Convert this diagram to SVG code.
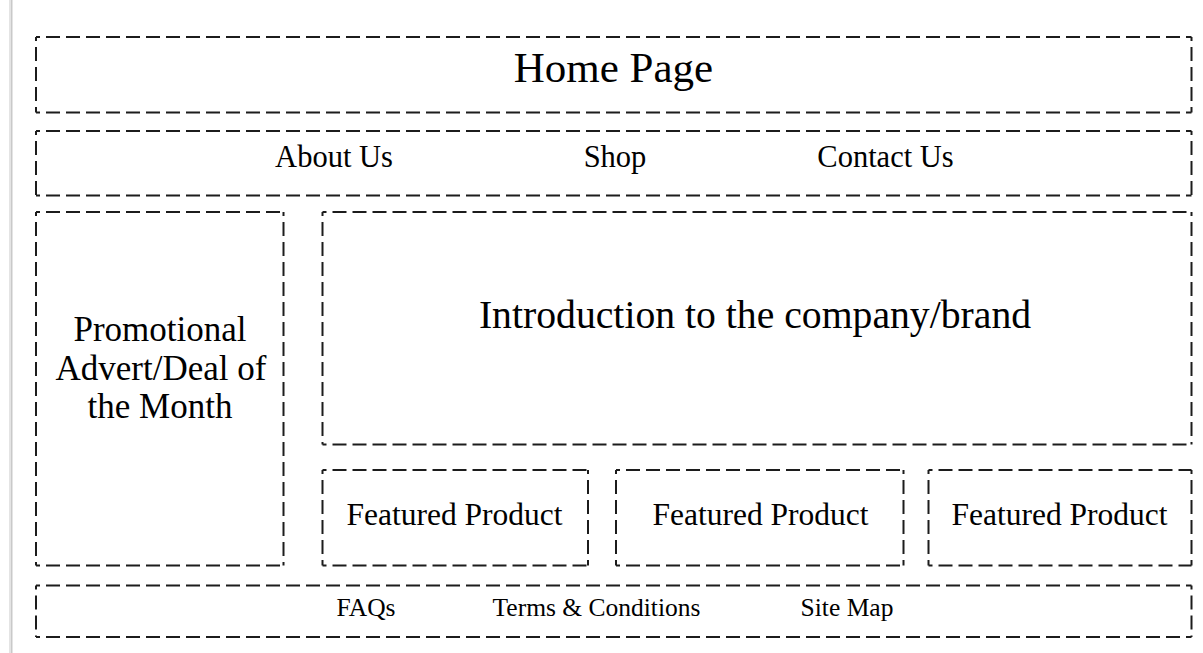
<svg xmlns="http://www.w3.org/2000/svg" width="1203" height="653" viewBox="0 0 1203 653">
<style>
.box{fill:none;stroke:#1c1c1c;stroke-width:2;stroke-dasharray:14 6;stroke-dashoffset:10}
.t{font-family:"Liberation Serif","Times New Roman",serif;fill:#000;text-anchor:middle}
</style>
<rect width="1203" height="653" fill="#fff"/>
<rect x="9" y="0" width="2" height="653" fill="#e4e4e4"/>
<rect x="11" y="0" width="1.5" height="653" fill="#c9c9c9"/>
<g id="connectors"></g>
<g id="home">
<path class="box" d="M36 37H1191.5M36 37V112.5M1191.5 37V112.5M36 112.5H1191.5"/>
<text class="t" x="613.5" y="82" font-size="43">Home Page</text>
</g>
<g id="nav">
<path class="box" d="M36 131H1191.5M36 131V195.5M1191.5 131V195.5M36 195.5H1191.5"/>
<text class="t" x="334" y="167" font-size="30.5">About Us</text>
<text class="t" x="615" y="167" font-size="30.5">Shop</text>
<text class="t" x="885.5" y="167" font-size="30.5">Contact Us</text>
</g>
<g id="promo">
<path class="box" d="M36 212H283.5M36 212V565.5M283.5 212V565.5M36 565.5H283.5"/>
<text class="t" x="160" y="340.5" font-size="35">Promotional</text>
<text class="t" x="161" y="379.5" font-size="35">Advert/Deal of</text>
<text class="t" x="160" y="418" font-size="35">the Month</text>
</g>
<g id="intro">
<path class="box" d="M322.5 212H1191.5M322.5 212V444.5M1191.5 212V444.5M322.5 444.5H1191.5"/>
<text class="t" x="755" y="328" font-size="39.7">Introduction to the company/brand</text>
</g>
<g id="featured1">
<path class="box" d="M322.5 470H588M322.5 470V565.5M588 470V565.5M322.5 565.5H588"/>
<text class="t" x="454.5" y="525" font-size="31.5">Featured Product</text>
</g>
<g id="featured2">
<path class="box" d="M616 470H903.5M616 470V565.5M903.5 470V565.5M616 565.5H903.5"/>
<text class="t" x="760.5" y="525" font-size="31.5">Featured Product</text>
</g>
<g id="featured3">
<path class="box" d="M928.5 470H1191.5M928.5 470V565.5M1191.5 470V565.5M928.5 565.5H1191.5"/>
<text class="t" x="1059.5" y="525" font-size="31.5">Featured Product</text>
</g>
<g id="footer">
<path class="box" d="M36 585.5H1191.5M36 585.5V637M1191.5 585.5V637M36 637H1191.5"/>
<text class="t" x="366" y="616" font-size="25.5">FAQs</text>
<text class="t" x="596.5" y="616" font-size="25.5">Terms &amp; Conditions</text>
<text class="t" x="847" y="616" font-size="25.5">Site Map</text>
</g>
</svg>
